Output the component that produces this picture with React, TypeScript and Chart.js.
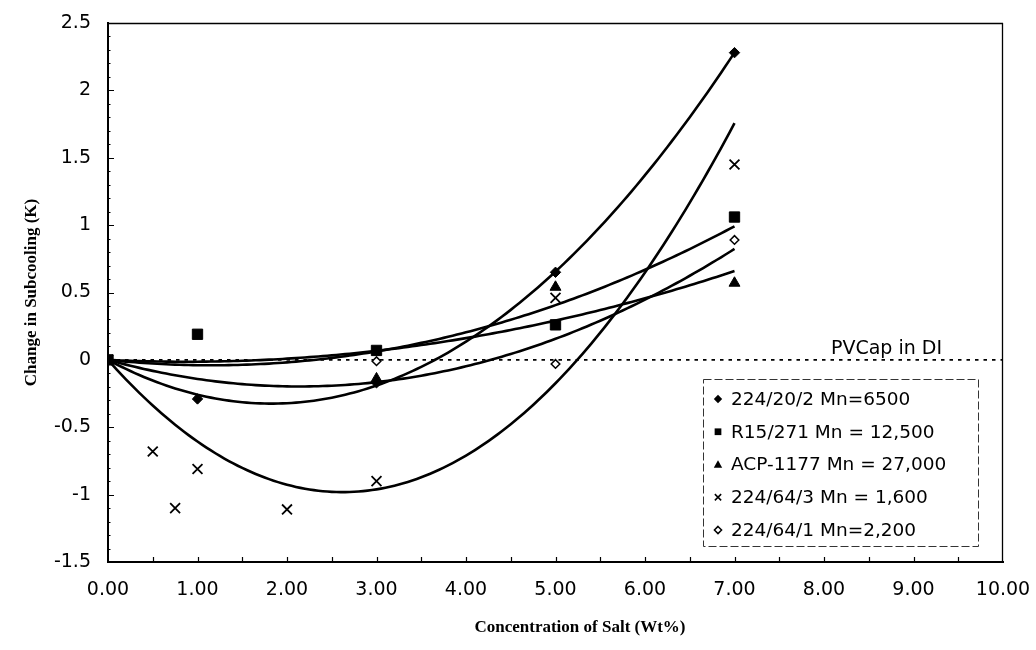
import React, { useEffect, useRef } from "react";
import { Chart, registerables } from "chart.js";

Chart.register(...registerables);

// ---------- data ----------
const xTickLabels = ["0.00", "1.00", "2.00", "3.00", "4.00", "5.00", "6.00", "7.00", "8.00", "9.00", "10.00"];
const yTickLabels = ["-1.5", "-1", "-0.5", "0", "0.5", "1", "1.5", "2", "2.5"];

const seriesNames = [
  "224/20/2 Mn=6500",
  "R15/271 Mn = 12,500",
  "ACP-1177 Mn = 27,000",
  "224/64/3 Mn = 1,600",
  "224/64/1 Mn=2,200",
];

const xA = [0, 1, 3, 5, 7];
const yA = [0, -0.29, -0.17, 0.65, 2.28];

const xB = [0, 1, 3, 5, 7];
const yB = [0, 0.19, 0.07, 0.26, 1.06];

const xC = [0, 3, 5, 7];
const yC = [0, -0.14, 0.54, 0.57];

const xD = [0, 0.5, 0.75, 1, 2, 3, 5, 7];
const yD = [0, -0.68, -1.1, -0.81, -1.11, -0.9, 0.46, 1.45];

const xE = [0, 3, 5, 7];
const yE = [0, -0.01, -0.03, 0.89];

const referenceLabel = "PVCap in DI";
const referenceX = [0, 10];
const referenceY = [0, 0];

const xTitle = "Concentration of Salt (Wt%)";
const yTitle = "Change in Subcooling (K)";

// ---------- helpers ----------
const SANS = "'DejaVu Sans', 'Liberation Sans', sans-serif";
const SERIF = "'Liberation Serif', 'DejaVu Serif', serif";

function pts(xs: number[], ys: number[]) {
  return xs.map((x, i) => ({ x, y: ys[i] }));
}

// 2nd-order polynomial trendline (intercept fixed at 0), least squares from the data
function trend(xs: number[], ys: number[]) {
  let s2 = 0, s3 = 0, s4 = 0, sxy = 0, sx2y = 0;
  xs.forEach((x, i) => {
    const y = ys[i];
    s2 += x * x; s3 += x * x * x; s4 += x * x * x * x;
    sxy += x * y; sx2y += x * x * y;
  });
  const det = s4 * s2 - s3 * s3;
  const a = (sx2y * s2 - s3 * sxy) / det;
  const b = (s4 * sxy - s3 * sx2y) / det;
  const xmin = Math.min(...xs), xmax = Math.max(...xs);
  const out: { x: number; y: number }[] = [];
  const n = 140;
  for (let i = 0; i <= n; i++) {
    const x = xmin + ((xmax - xmin) * i) / n;
    out.push({ x, y: a * x * x + b * x });
  }
  return out;
}

function drawMarker(ctx: CanvasRenderingContext2D, kind: number, x: number, y: number, s: number) {
  ctx.save();
  ctx.fillStyle = "#000";
  ctx.strokeStyle = "#000";
  ctx.lineWidth = 1.5;
  ctx.beginPath();
  if (kind === 0) {
    ctx.moveTo(x, y - s); ctx.lineTo(x + s, y); ctx.lineTo(x, y + s); ctx.lineTo(x - s, y); ctx.closePath(); ctx.fill();
  } else if (kind === 1) {
    ctx.rect(x - s * 0.8, y - s * 0.8, s * 1.6, s * 1.6); ctx.fill();
  } else if (kind === 2) {
    ctx.moveTo(x, y - s); ctx.lineTo(x + s, y + s * 0.8); ctx.lineTo(x - s, y + s * 0.8); ctx.closePath(); ctx.fill();
  } else if (kind === 3) {
    const d = s * 0.75;
    ctx.moveTo(x - d, y - d); ctx.lineTo(x + d, y + d); ctx.moveTo(x + d, y - d); ctx.lineTo(x - d, y + d); ctx.stroke();
  } else {
    const d = s * 0.85;
    ctx.fillStyle = "#fff";
    ctx.moveTo(x, y - d); ctx.lineTo(x + d, y); ctx.lineTo(x, y + d); ctx.lineTo(x - d, y); ctx.closePath(); ctx.fill(); ctx.stroke();
  }
  ctx.restore();
}

const decorPlugin = {
  id: "decor",
  beforeDatasetsDraw(chart: any) {
    const { ctx, chartArea: ca, scales } = chart;
    const xs = scales.x, ys = scales.y;
    ctx.save();
    ctx.strokeStyle = "#000";
    // top & right frame
    ctx.lineWidth = 1.3;
    ctx.beginPath();
    ctx.moveTo(ca.left, ca.top + 0.5); ctx.lineTo(ca.right, ca.top + 0.5);
    ctx.moveTo(ca.right - 0.5, ca.top); ctx.lineTo(ca.right - 0.5, ca.bottom);
    ctx.stroke();
    // inward ticks on x axis
    ctx.lineWidth = 1.2;
    ctx.beginPath();
    for (let v = 0.5; v < 10; v += 0.5) {
      const px = Math.round(xs.getPixelForValue(v)) + 0.5;
      ctx.moveTo(px, ca.bottom); ctx.lineTo(px, ca.bottom - 5);
    }
    // inward ticks on y axis
    for (let k = -15; k <= 25; k++) {
      const v = k / 10;
      const py = Math.round(ys.getPixelForValue(v)) + 0.5;
      const len = k % 5 === 0 ? 6 : 2.5;
      ctx.moveTo(ca.left, py); ctx.lineTo(ca.left + len, py);
    }
    ctx.stroke();
    ctx.restore();
  },
  afterDraw(chart: any) {
    const { ctx, chartArea: ca, scales } = chart;
    const ys = scales.y;
    ctx.save();
    // axis titles
    ctx.fillStyle = "#000";
    ctx.font = `bold 17px ${SERIF}`;
    ctx.textAlign = "center";
    ctx.textBaseline = "middle";
    ctx.fillText(xTitle, 580, 628);
    ctx.save();
    ctx.translate(32, (ca.top + ca.bottom) / 2);
    ctx.rotate(-Math.PI / 2);
    ctx.fillText(yTitle, 0, 0);
    ctx.restore();

    // reference label
    ctx.font = `19px ${SANS}`;
    ctx.textAlign = "right";
    ctx.fillText(referenceLabel, 942, ys.getPixelForValue(0) - 11);

    // legend box
    const lx = 703.5, ly = 379.5, lw = 275, lh = 167;
    ctx.fillStyle = "#fff";
    ctx.fillRect(lx, ly, lw, lh);
    ctx.strokeStyle = "#333";
    ctx.lineWidth = 1;
    ctx.setLineDash([8, 3]);
    ctx.strokeRect(lx, ly, lw, lh);
    ctx.setLineDash([]);
    ctx.fillStyle = "#000";
    ctx.font = `18.5px ${SANS}`;
    ctx.textAlign = "left";
    ctx.textBaseline = "middle";
    seriesNames.forEach((name, i) => {
      const yy = 399 + i * 32.75;
      drawMarker(ctx, i, 718, yy, 4.2);
      ctx.fillStyle = "#000";
      ctx.fillText(name, 731, yy + 1);
    });
    ctx.restore();
  },
};

export default function App() {
  const ref = useRef<HTMLCanvasElement | null>(null);

  useEffect(() => {
    if (!ref.current) return;
    const markerBase = { showLine: false, borderColor: "#000", backgroundColor: "#000" };
    const trendBase = {
      showLine: true,
      pointRadius: 0,
      pointHoverRadius: 0,
      borderColor: "#000",
      borderWidth: 2.6,
      tension: 0,
      fill: false,
    };
    const chart = new Chart(ref.current, {
      type: "scatter",
      data: {
        datasets: [
          { ...markerBase, label: seriesNames[0], data: pts(xA, yA), pointStyle: "rectRot", pointRadius: 5.2 },
          { ...markerBase, label: seriesNames[1], data: pts(xB, yB), pointStyle: "rect", pointRadius: 7.3 },
          { ...markerBase, label: seriesNames[2], data: pts(xC, yC), pointStyle: "triangle", pointRadius: 6.3 },
          { ...markerBase, label: seriesNames[3], data: pts(xD, yD), pointStyle: "crossRot", pointRadius: 7, pointBorderWidth: 1.8 },
          { ...markerBase, label: seriesNames[4], data: pts(xE, yE), pointStyle: "rectRot", pointRadius: 4.3, backgroundColor: "#fff", pointBorderWidth: 1.5 },
          { ...trendBase, label: "trend A", data: trend(xA, yA) },
          { ...trendBase, label: "trend B", data: trend(xB, yB) },
          { ...trendBase, label: "trend C", data: trend(xC, yC) },
          { ...trendBase, label: "trend D", data: trend(xD, yD) },
          { ...trendBase, label: "trend E", data: trend(xE, yE) },
          {
            label: referenceLabel,
            data: pts(referenceX, referenceY),
            showLine: true,
            pointRadius: 0,
            borderColor: "#000",
            borderWidth: 1.8,
            borderDash: [3.5, 5],
          },
        ],
      },
      options: {
        responsive: false,
        animation: false,
        devicePixelRatio: 1,
        layout: { padding: { left: 0, top: 23, right: 33, bottom: 0 } },
        plugins: { legend: { display: false }, tooltip: { enabled: false } },
        scales: {
          x: {
            type: "linear",
            min: 0,
            max: 10,
            afterFit: (s: any) => { s.height = 88; s.paddingLeft = 0; s.paddingRight = 0; },
            grid: { display: false, drawTicks: false },
            border: { display: true, color: "#000", width: 2 },
            ticks: {
              stepSize: 1,
              padding: 17,
              color: "#000",
              font: { family: SANS, size: 19 },
              maxRotation: 0,
              callback: (_v: any, i: number) => xTickLabels[i],
            },
          },
          y: {
            type: "linear",
            min: -1.5,
            max: 2.5,
            afterFit: (s: any) => { s.width = 108; s.paddingTop = 0; s.paddingBottom = 0; },
            grid: { display: false, drawTicks: false },
            border: { display: true, color: "#000", width: 2 },
            ticks: {
              stepSize: 0.5,
              padding: 17,
              color: "#000",
              font: { family: SANS, size: 19 },
              callback: (_v: any, i: number) => yTickLabels[i],
            },
          },
        },
      },
      plugins: [decorPlugin],
    });
    return () => chart.destroy();
  }, []);

  return (
    <div style={{ position: "absolute", left: 0, top: 0, width: 1036, height: 650, background: "#fff" }}>
      <canvas ref={ref} width={1036} height={650} />
    </div>
  );
}
